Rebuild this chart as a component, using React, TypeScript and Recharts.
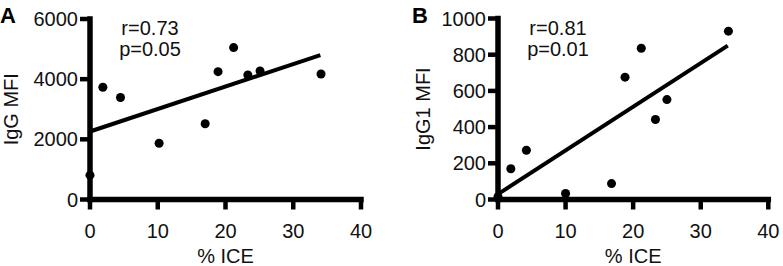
import { ScatterChart, Scatter, XAxis, YAxis, ReferenceLine } from 'recharts';

// % ICE vs MFI
const iceA = [0, 1.9, 4.5, 10.2, 17.0, 18.9, 21.2, 23.3, 25.1, 34.1];
const iggA = [810, 3730, 3390, 1870, 2520, 4250, 5050, 4140, 4270, 4170];
const fitA = [
  { x: 0, y: 2260 },
  { x: 34, y: 4800 },
];

const iceB = [0, 1.9, 4.2, 10.0, 16.8, 18.8, 21.2, 23.3, 25.0, 34.1];
const igg1B = [15, 170, 272, 33, 88, 676, 836, 442, 552, 930];
const fitB = [
  { x: 0, y: 30 },
  { x: 34, y: 850 },
];

const xTicks = [0, 10, 20, 30, 40];
const yTicksA = [0, 2000, 4000, 6000];
const yTicksB = [0, 200, 400, 600, 800, 1000];

const FONT = '"Liberation Sans", Arial, sans-serif';
const tickStyle = { fill: '#111', fontSize: 20, fontFamily: FONT };
const AXIS_W = 5.5;
const TICK_W = 4.5;

const axisCss = `
svg .recharts-cartesian-axis-line { stroke-width: ${AXIS_W}px !important; stroke: #000 !important; stroke-linecap: square; }
svg .recharts-cartesian-axis-tick-line { stroke-width: ${TICK_W}px !important; stroke: #000 !important; }
`;

const toPoints = (xs: number[], ys: number[]) => xs.map((x, i) => ({ x, y: ys[i] }));

interface PanelProps {
  left: number;
  width: number;
  top: number;
  yWidth: number;
  right: number;
  xs: number[];
  ys: number[];
  fit: { x: number; y: number }[];
  yMax: number;
  yTicks: number[];
  yLabel: string;
  yLabelOffset: number;
}

const Panel = (p: PanelProps) => (
  <div style={{ position: 'absolute', left: p.left, top: 0 }}>
    <ScatterChart
      width={p.width}
      height={266}
      margin={{ top: p.top, right: p.right, bottom: 0, left: 0 }}
    >
      <XAxis
        type="number"
        dataKey="x"
        domain={[0, 40]}
        ticks={xTicks}
        height={66.5}
        tick={tickStyle}
        tickSize={10}
        tickMargin={14}
        axisLine={{ stroke: '#000', strokeWidth: AXIS_W }}
        tickLine={{ stroke: '#000', strokeWidth: TICK_W }}
        label={{
          value: '% ICE',
          position: 'insideBottom',
          offset: 3,
          style: { fill: '#111', fontSize: 20, fontFamily: FONT },
        }}
      />
      <YAxis
        type="number"
        dataKey="y"
        domain={[0, p.yMax]}
        ticks={p.yTicks}
        width={p.yWidth}
        tick={tickStyle}
        tickSize={10}
        tickMargin={2}
        axisLine={{ stroke: '#000', strokeWidth: AXIS_W }}
        tickLine={{ stroke: '#000', strokeWidth: TICK_W }}
        label={{
          value: p.yLabel,
          angle: -90,
          position: 'insideLeft',
          offset: p.yLabelOffset,
          style: { fill: '#111', fontSize: 20, fontFamily: FONT, textAnchor: 'middle' },
        }}
      />
      <ReferenceLine segment={p.fit} stroke="#000" strokeWidth={4} ifOverflow="visible" />
      <Scatter
        data={toPoints(p.xs, p.ys)}
        fill="#000"
        shape="circle"
        isAnimationActive={false}
      />
    </ScatterChart>
  </div>
);

export default function App() {
  return (
    <div style={{ position: 'absolute', left: 0, top: 0, width: 783, height: 266, background: '#fff' }}>
      <style>{axisCss}</style>
      <Panel
        left={0}
        width={390}
        top={19}
        yWidth={90}
        right={29}
        xs={iceA}
        ys={iggA}
        fit={fitA}
        yMax={6000}
        yTicks={yTicksA}
        yLabel="IgG MFI"
        yLabelOffset={11}
      />
      <Panel
        left={390}
        width={393}
        top={18.5}
        yWidth={108}
        right={14.7}
        xs={iceB}
        ys={igg1B}
        fit={fitB}
        yMax={1000}
        yTicks={yTicksB}
        yLabel="IgG1 MFI"
        yLabelOffset={33}
      />
      <svg
        width={783}
        height={266}
        style={{ position: 'absolute', left: 0, top: 0, pointerEvents: 'none' }}
        fontFamily={FONT}
      >
        <text x={0} y={23} fontSize={22} fontWeight="bold" fill="#000">A</text>
        <text x={412} y={23} fontSize={22} fontWeight="bold" fill="#000">B</text>
        <text x={150} y={35} fontSize={20} fill="#111" textAnchor="middle">r=0.73</text>
        <text x={150} y={56} fontSize={20} fill="#111" textAnchor="middle">p=0.05</text>
        <text x={558} y={35} fontSize={20} fill="#111" textAnchor="middle">r=0.81</text>
        <text x={558} y={56} fontSize={20} fill="#111" textAnchor="middle">p=0.01</text>
      </svg>
    </div>
  );
}
